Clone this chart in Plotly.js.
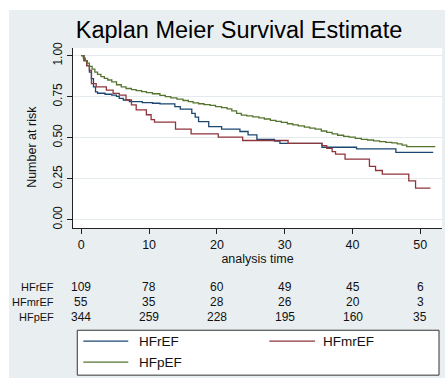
<!DOCTYPE html>
<html>
<head>
<meta charset="utf-8">
<script src="https://cdn.plot.ly/plotly-3.0.1.min.js"></script>
<style>
  html, body { margin: 0; padding: 0; background: #ffffff; width: 445px; height: 378px; overflow: hidden; }
  #chart { position: absolute; left: 9px; top: 10px; width: 436px; height: 368px; }
</style>
</head>
<body>
<div id="chart"></div>
<script>
// ---- data ----
const groups = ['HFrEF', 'HFmrEF', 'HFpEF'];

const tHFrEF = [0, 0.4, 0.8, 1.2, 1.5, 1.8, 2.1, 2.4, 3.5, 4.5, 5.2, 5.6, 6.2, 7.1, 9.0, 10.5, 11.6, 13.8, 14.6, 16.3, 16.8, 17.3, 18.8, 20.7, 23.4, 24.6, 25.9, 28.5, 29.3, 35.5, 40.6, 46.4, 51.9];
const sHFrEF = [1, 0.97, 0.94, 0.90, 0.86, 0.81, 0.78, 0.771, 0.765, 0.76, 0.752, 0.74, 0.73, 0.72, 0.714, 0.71, 0.706, 0.69, 0.674, 0.649, 0.625, 0.598, 0.568, 0.552, 0.538, 0.517, 0.49, 0.48, 0.465, 0.442, 0.432, 0.41, 0.41];

const tHFmrEF = [0, 0.4, 0.8, 1.2, 1.5, 2.2, 3.7, 4.7, 5.6, 6.6, 7.4, 8.1, 9.6, 10.3, 10.8, 13.9, 16.2, 20.2, 23.8, 30.5, 35.5, 36.2, 37.0, 37.5, 38.9, 42.5, 43.4, 44.4, 48.3, 49.3, 51.5];
const sHFmrEF = [1, 0.97, 0.94, 0.91, 0.83, 0.81, 0.79, 0.77, 0.76, 0.73, 0.70, 0.67, 0.64, 0.61, 0.595, 0.552, 0.523, 0.503, 0.483, 0.465, 0.452, 0.435, 0.415, 0.40, 0.37, 0.325, 0.30, 0.278, 0.237, 0.193, 0.193];

const tHFpEF = [0, 0.3, 0.6, 0.9, 1.2, 1.6, 2.0, 2.4, 2.9, 3.4, 3.9, 4.5, 5.2, 5.9, 6.6, 7.4, 8.1, 8.9, 9.6, 10.5, 11.6, 12.4, 13.2, 14.1, 15.0, 15.8, 16.5, 17.3, 18.1, 19.0, 19.8, 20.7, 21.5, 22.2, 22.9, 23.6, 24.4, 25.3, 26.2, 27.0, 27.9, 28.7, 29.5, 30.4, 31.2, 32.0, 32.9, 33.7, 34.5, 35.4, 36.2, 37.0, 37.8, 38.7, 39.5, 40.4, 41.3, 42.2, 43.1, 44.0, 44.9, 45.8, 46.6, 47.3, 48.0, 52.2];
const sHFpEF = [1, 0.985, 0.97, 0.955, 0.935, 0.918, 0.9, 0.886, 0.872, 0.862, 0.852, 0.84, 0.823, 0.81, 0.80, 0.793, 0.787, 0.781, 0.775, 0.768, 0.758, 0.751, 0.743, 0.735, 0.727, 0.72, 0.713, 0.707, 0.702, 0.697, 0.69, 0.683, 0.676, 0.664, 0.648, 0.638, 0.633, 0.627, 0.621, 0.614, 0.606, 0.6, 0.594, 0.585, 0.578, 0.572, 0.565, 0.559, 0.552, 0.541, 0.533, 0.524, 0.515, 0.508, 0.503, 0.496, 0.49, 0.486, 0.481, 0.476, 0.472, 0.469, 0.462, 0.455, 0.446, 0.446];

const riskTimes = [0, 10, 20, 30, 40, 50];
const riskHFrEF = [109, 78, 60, 49, 45, 6];
const riskHFmrEF = [55, 35, 28, 26, 20, 3];
const riskHFpEF = [344, 259, 228, 195, 160, 35];

const xTickVals = [0, 10, 20, 30, 40, 50];
const yTickVals = [0, 0.25, 0.5, 0.75, 1];
const yTickText = ['0.00', '0.25', '0.50', '0.75', '1.00'];

// ---- styling ----
const colors = ['#1a476f', '#90353b', '#55752f'];
const FONT = 'Liberation Sans, Arial, Helvetica, sans-serif';
const curveT = [tHFrEF, tHFmrEF, tHFpEF];
const curveS = [sHFrEF, sHFmrEF, sHFpEF];
const riskRows = [riskHFrEF, riskHFmrEF, riskHFpEF];

const traces = groups.map((g, i) => ({
  type: 'scatter', mode: 'lines', name: g,
  x: curveT[i], y: curveS[i],
  line: { shape: 'hv', color: colors[i], width: 1.3 },
  showlegend: false, hoverinfo: 'skip'
}));

const annotations = [];
const shapes = [];

// y-axis title
annotations.push({
  text: 'Number at risk', xref: 'paper', yref: 'paper', x: -0.111, y: 0.451,
  textangle: -90, showarrow: false, xanchor: 'center', yanchor: 'middle',
  font: { family: FONT, size: 12.5, color: '#111' }
});

// number-at-risk table
const rowY = [-0.3256, -0.4104, -0.4958];
groups.forEach((g, i) => {
  annotations.push({
    text: g, xref: 'paper', yref: 'paper', x: -0.047, y: rowY[i],
    xanchor: 'right', yanchor: 'middle', showarrow: false,
    font: { family: FONT, size: 11, color: '#111' }
  });
  riskTimes.forEach((t, j) => {
    annotations.push({
      text: String(riskRows[i][j]), xref: 'x', yref: 'paper', x: t, y: rowY[i],
      xanchor: 'center', yanchor: 'middle', showarrow: false,
      font: { family: FONT, size: 12, color: '#111' }
    });
  });
});

// legend box
shapes.push({
  type: 'rect', xref: 'paper', yref: 'paper', x0: 0.0116, x1: 0.9919, y0: -0.8175, y1: -0.568,
  fillcolor: '#ffffff', line: { color: '#333', width: 1 }
});
const legPos = [
  { x0: 0.0279, x1: 0.1498, y: -0.629, tx: 0.174 },
  { x0: 0.532, x1: 0.656, y: -0.629, tx: 0.6726 },
  { x0: 0.0279, x1: 0.1498, y: -0.7454, tx: 0.174 }
];
groups.forEach((g, i) => {
  const p = legPos[i];
  shapes.push({ type: 'line', xref: 'paper', yref: 'paper', x0: p.x0, x1: p.x1, y0: p.y, y1: p.y,
    line: { color: colors[i], width: 1.3 } });
  annotations.push({ text: g, xref: 'paper', yref: 'paper', x: p.tx, y: p.y,
    xanchor: 'left', yanchor: 'middle', showarrow: false,
    font: { family: FONT, size: 13.5, color: '#111' } });
});

const layout = {
  width: 436, height: 368,
  margin: { l: 64, r: 3, t: 38, b: 150 },
  paper_bgcolor: '#e9eff1',
  plot_bgcolor: '#ffffff',
  font: { family: FONT, color: '#111' },
  title: {
    text: 'Kaplan Meier Survival Estimate',
    font: { family: FONT, size: 23.5, color: '#000' },
    xref: 'container', yref: 'container', x: 0.5275, y: 0.9457,
    xanchor: 'center', yanchor: 'middle'
  },
  xaxis: {
    range: [-1.22, 53.2], tickvals: xTickVals, ticks: 'outside', ticklen: 5,
    tickcolor: '#222', showline: true, linecolor: '#222', linewidth: 1,
    showgrid: false, zeroline: false, automargin: false,
    tickfont: { family: FONT, size: 12.5, color: '#111' },
    title: { text: 'analysis time', font: { family: FONT, size: 12.5, color: '#111' }, standoff: 2 }
  },
  yaxis: {
    range: [-0.0505, 1.047], tickvals: yTickVals, ticktext: yTickText, tickangle: -90,
    ticks: 'outside', ticklen: 5, tickcolor: '#222', showline: true, linecolor: '#222', linewidth: 1,
    showgrid: true, gridcolor: '#e3ebee', gridwidth: 1, zeroline: false, automargin: false,
    tickfont: { family: FONT, size: 12, color: '#111' }
  },
  annotations: annotations,
  shapes: shapes,
  showlegend: false
};

Plotly.newPlot('chart', traces, layout, { displayModeBar: false, staticPlot: true });
</script>
</body>
</html>
